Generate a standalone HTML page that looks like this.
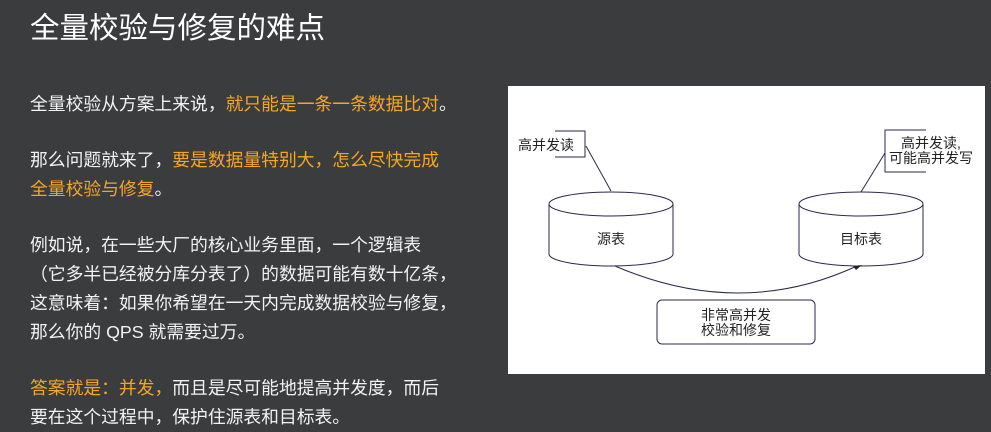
<!DOCTYPE html>
<html><head><meta charset="utf-8"><style>
body{margin:0;width:991px;height:431px;background:#3b3c3e;overflow:hidden;position:relative;font-family:"Liberation Sans","Noto Sans CJK SC",sans-serif;color:#fff}
.t{position:absolute;left:30px;top:5px;font-size:29.5px;color:#fff}
.p{position:absolute;left:30px;font-size:17.8px;line-height:29px;color:#f2f2f2;white-space:nowrap}
.o{color:#f5a623}
svg{position:absolute;left:0;top:0}
</style></head><body>
<div class="t">全量校验与修复的难点</div>
<div class="p" style="top:90px">全量校验从方案上来说，<span class="o">就只能是一条一条数据比对</span>。</div>
<div class="p" style="top:146px">那么问题就来了，<span class="o">要是数据量特别大，怎么尽快完成<br>全量校验与修复</span>。</div>
<div class="p" style="top:231px">例如说，在一些大厂的核心业务里面，一个逻辑表<br>（它多半已经被分库分表了）的数据可能有数十亿条，<br>这意味着：如果你希望在一天内完成数据校验与修复，<br>那么你的 QPS 就需要过万。</div>
<div class="p" style="top:374px"><span class="o">答案就是：并发，</span>而且是尽可能地提高并发度，而后<br>要在这个过程中，保护住源表和目标表。</div>
<svg width="991" height="431">
<rect x="508" y="86" width="477" height="288" fill="#fff"/>
<g fill="none" stroke="#2a2a4a" stroke-width="1">
<path d="M555 131H585V157H555"/>
<line x1="586" y1="146" x2="611" y2="191"/>
<path d="M549 204V254A62 12 0 0 0 673 254V204"/>
<ellipse cx="611" cy="204" rx="62" ry="12"/>
<path d="M799 204V254A62 12 0 0 0 923 254V204"/>
<ellipse cx="861" cy="204" rx="62" ry="12"/>
<path d="M926 130H885V172H926"/>
<line x1="885" y1="153" x2="861" y2="192"/>
<path d="M615 266Q740 320 857 266"/>
<rect x="657" y="300" width="158" height="44" rx="5"/>
</g>
<path d="M862 265L853 266L856 270Z" fill="#222"/>
<g font-size="14" fill="#222" font-family="Liberation Sans,Noto Sans CJK SC,sans-serif">
<text x="518" y="150">高并发读</text>
<text x="611" y="244" text-anchor="middle">源表</text>
<text x="861" y="244" text-anchor="middle">目标表</text>
<text x="931" y="148" text-anchor="middle">高并发读,</text>
<text x="931" y="163" text-anchor="middle">可能高并发写</text>
<text x="736" y="320" text-anchor="middle">非常高并发</text>
<text x="736" y="335" text-anchor="middle">校验和修复</text>
</g>
</svg>
</body></html>
